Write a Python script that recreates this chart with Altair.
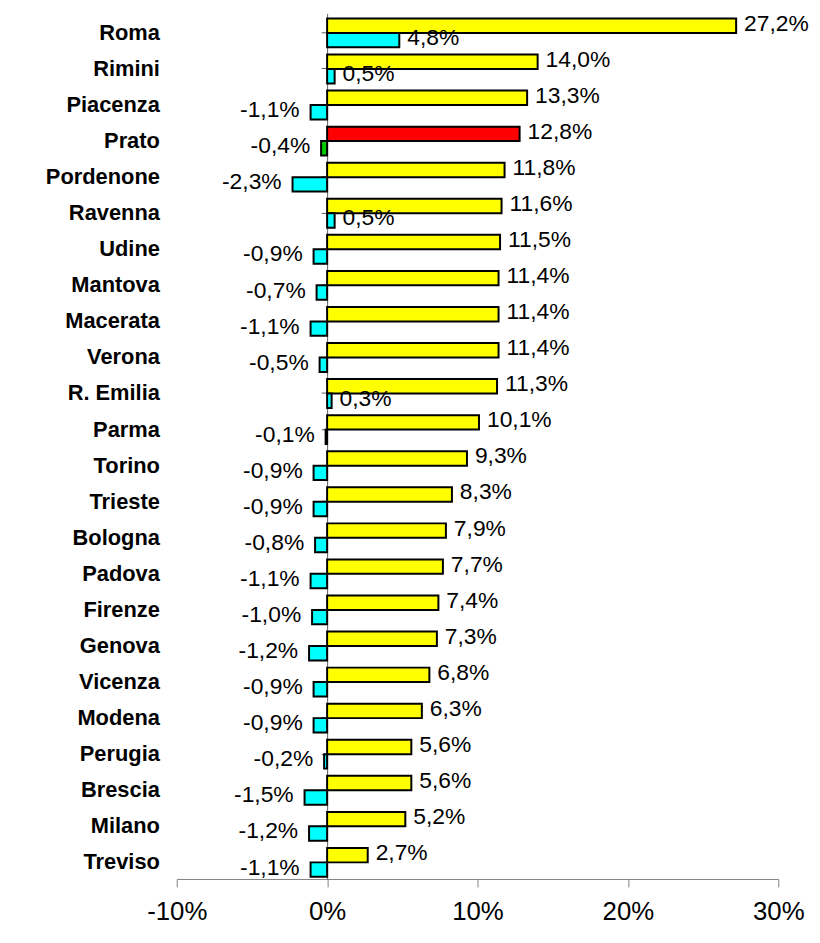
import altair as alt
import pandas as pd

cities = ["Roma", "Rimini", "Piacenza", "Prato", "Pordenone", "Ravenna", "Udine",
          "Mantova", "Macerata", "Verona", "R. Emilia", "Parma", "Torino", "Trieste",
          "Bologna", "Padova", "Firenze", "Genova", "Vicenza", "Modena", "Perugia",
          "Brescia", "Milano", "Treviso"]
series_a = [27.2, 14.0, 13.3, 12.8, 11.8, 11.6, 11.5, 11.4, 11.4, 11.4, 11.3, 10.1,
            9.3, 8.3, 7.9, 7.7, 7.4, 7.3, 6.8, 6.3, 5.6, 5.6, 5.2, 2.7]
series_b = [4.8, 0.5, -1.1, -0.4, -2.3, 0.5, -0.9, -0.7, -1.1, -0.5, 0.3, -0.1,
            -0.9, -0.9, -0.8, -1.1, -1.0, -1.2, -0.9, -0.9, -0.2, -1.5, -1.2, -1.1]
highlight = "Prato"
color_a, color_b = "#FFFF00", "#00FFFF"
color_a_hl, color_b_hl = "#FF0000", "#00CC00"
x_ticks = [-10, 0, 10, 20, 30]

rows = []
for c, a, b in zip(cities, series_a, series_b):
    for s, v in (("a", a), ("b", b)):
        if s == "a":
            col = color_a_hl if c == highlight else color_a
        else:
            col = color_b_hl if c == highlight else color_b
        rows.append({"city": c, "series": s, "value": v, "color": col,
                     "label": f"{v:.1f}".replace(".", ",") + "%"})
df = pd.DataFrame(rows)

FONT = "Liberation Sans"

x_enc = alt.X("value:Q",
              scale=alt.Scale(domain=[-10, 30], nice=False, zero=True),
              axis=alt.Axis(title=None, values=x_ticks, labelExpr="datum.value + '%'",
                            grid=False, domainColor="#808080", tickColor="#808080",
                            tickSize=8, labelFont=FONT, labelFontSize=26,
                            labelColor="black", labelPadding=12, labelFlush=False))
y_enc = alt.Y("city:N", sort=cities,
              scale=alt.Scale(paddingInner=0.2, paddingOuter=0.1, align=0.7),
              axis=alt.Axis(title=None, offset=-151.5, labelPadding=163,
                            labelFont=FONT, labelFontWeight="bold", labelFontSize=22,
                            labelColor="black", domainColor="#606060",
                            tickColor="#606060", tickSize=6, labelAlign="right"))
yoff = alt.YOffset("series:N", sort=["a", "b"])

base = alt.Chart(df)

bars = base.mark_bar(stroke="black", strokeWidth=2).encode(
    x=x_enc, y=y_enc, yOffset=yoff,
    color=alt.Color("color:N", scale=None),
)

pos_labels = base.transform_filter("datum.value >= 0").mark_text(
    align="left", baseline="middle", dx=8, dy=-2, font=FONT, fontSize=23, color="black"
).encode(x="value:Q", y=alt.Y("city:N", sort=cities), yOffset=yoff, text="label:N")

neg_labels = base.transform_filter("datum.value < 0").mark_text(
    align="right", baseline="middle", dx=-11, dy=-2, font=FONT, fontSize=23, color="black"
).encode(x="value:Q", y=alt.Y("city:N", sort=cities), yOffset=yoff, text="label:N")

chart = alt.layer(bars, pos_labels, neg_labels).properties(
    width=606, height=872,
    autosize=alt.AutoSizeParams(type="none"),
    padding={"left": 170, "top": 2, "right": 34, "bottom": 55},
).configure_view(stroke=None)

chart.save("out.html", embed_options={"renderer": "svg", "actions": False})
